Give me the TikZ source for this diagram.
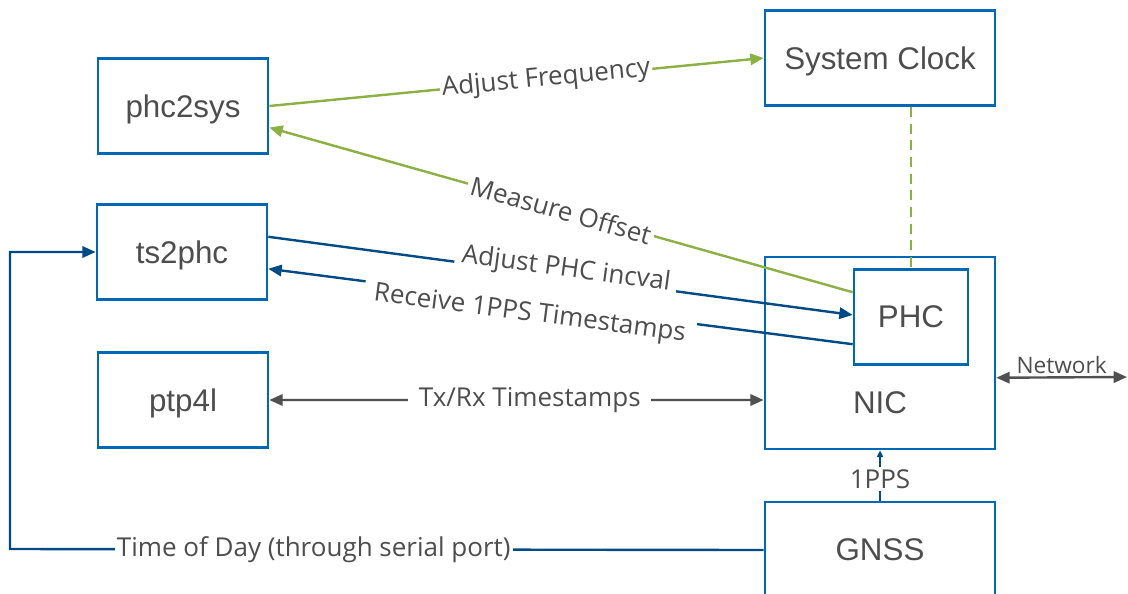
\documentclass[tikz,border=0pt]{standalone}
\usepackage{fontspec}
\setmainfont{Liberation Sans}
\newfontfamily\lblfont{Open Sans}
\usetikzlibrary{arrows.meta}
\definecolor{boxblue}{HTML}{0068B5}
\definecolor{linegreen}{HTML}{8BB043}
\definecolor{linenavy}{HTML}{004A86}
\definecolor{linegray}{HTML}{505050}
\definecolor{txtgray}{HTML}{4D4D4D}

\begin{document}
\begin{tikzpicture}[x=0.75pt, y=-0.75pt,
    blk/.style={draw=boxblue, line width=2pt, inner sep=0pt, text=txtgray,
        font=\fontsize{23.5}{28}\selectfont, text depth=0pt,
        minimum width=127.5pt, minimum height=71.25pt},
    wideblk/.style={blk, minimum width=172.5pt},
    lbl/.style={font=\lblfont\fontsize{19.5}{23}\selectfont, text=txtgray,
        fill=white, inner ysep=1.5pt, inner xsep=1.5pt},
    tip/.style={-{Triangle[length=10pt,width=8.5pt]}},
    bothtip/.style={{Triangle[length=10pt,width=8.5pt]}-{Triangle[length=10pt,width=8.5pt]}}]
\useasboundingbox (0,0) rectangle (1128,593);
\node[blk] (phc2sys) at (183,106) {phc2sys};
\node[blk] (ts2phc) at (182,252) {ts2phc};
\node[blk] (ptp4l) at (183,400) {ptp4l};
\node[wideblk] (sysclk) at (880,58) {System Clock};
\node[wideblk, minimum height=144pt] (nic) at (880,353) {};
\node[inner sep=0pt, text=txtgray, font=\fontsize{23.5}{28}\selectfont, text depth=0pt]
    (niclabel) at (880,403) {NIC};
\node[blk, minimum width=85.5pt] (phc) at (911,317) {PHC};
\node[wideblk, minimum height=72pt] (gnss) at (880,550) {GNSS};
\coordinate (tod) at (10,549);
\coordinate (net) at (1127,377);

\draw[tip, linegreen, line width=1.8pt] (phc2sys.east) -- (sysclk.west)
    node[lbl, sloped, pos=0.56] {Adjust Frequency};
\draw[tip, linegreen, line width=1.8pt] (phc.157) -- (phc2sys.-14)
    node[lbl, sloped, pos=0.5, inner xsep=2.5pt] {Measure Offset};
\draw[linegreen, line width=1.8pt, dash pattern=on 7.5pt off 5pt]
    (phc.north |- sysclk.south) -- (phc.north);
\draw[tip, linenavy, line width=1.8pt] (ts2phc.10) -- (phc.178)
    node[lbl, sloped, pos=0.508, anchor=base, inner xsep=5pt] {Adjust PHC incval};
\draw[tip, linenavy, line width=1.8pt] (phc.205) -- (ts2phc.-11)
    node[lbl, sloped, pos=0.55, below=-3pt, inner xsep=7.5pt] {Receive 1PPS Timestamps};
\draw[bothtip, linegray, line width=1.8pt] (ptp4l.east) -- (nic.202)
    node[lbl, pos=0.527, inner xsep=8pt] {Tx/Rx Timestamps};
\draw[bothtip, linegray, line width=1.8pt] (nic.-12) -- (net)
    node[midway, above=1pt, inner sep=1pt, text=txtgray,
        font=\lblfont\fontsize{17}{20}\selectfont] {Network};
\draw[-{Triangle[length=5pt,width=4.5pt]}, linenavy, line width=1.5pt]
    (gnss.north) -- (nic.south)
    node[lbl, pos=0.43] {1PPS};
\draw[tip, linenavy, line width=1.8pt] (gnss.west) --
    node[lbl, pos=0.597] {Time of Day (through serial port)}
    (tod) |- (ts2phc.west);
\end{tikzpicture}
\end{document}
